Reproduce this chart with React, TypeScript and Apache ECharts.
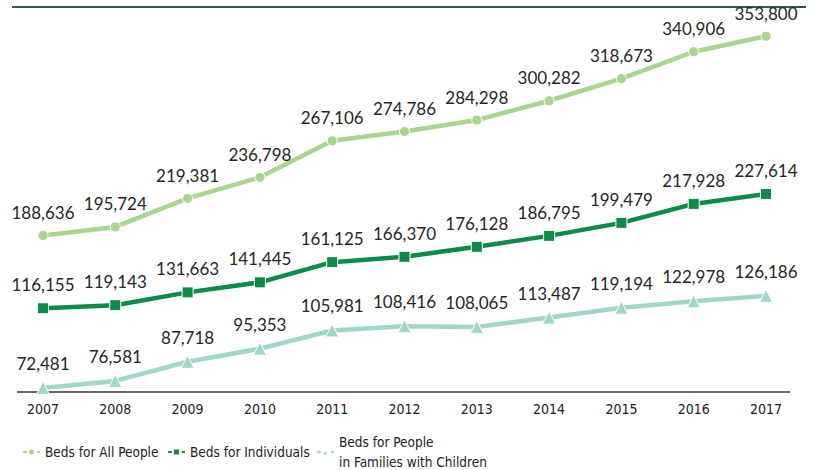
import React, { useEffect, useRef } from "react";
import * as echarts from "echarts";

const years = ["2007", "2008", "2009", "2010", "2011", "2012", "2013", "2014", "2015", "2016", "2017"];
const allPeople = [188636, 195724, 219381, 236798, 267106, 274786, 284298, 300282, 318673, 340906, 353800];
const individuals = [116155, 119143, 131663, 141445, 161125, 166370, 176128, 186795, 199479, 217928, 227614];
const families = [72481, 76581, 87718, 95353, 105981, 108416, 108065, 113487, 119194, 122978, 126186];
const seriesNames = ["Beds for All People", "Beds for Individuals", "Beds for People\nin Families with Children"];

const condensed = "'Liberation Sans Narrow', 'DejaVu Sans Condensed', 'Roboto', sans-serif";
const labelFont = "Lato, 'Open Sans', sans-serif";

export default function App() {
  const ref = useRef<HTMLDivElement>(null);
  useEffect(() => {
    const chart = echarts.init(ref.current!, null, { renderer: "svg" });
    const fmt = (p: any) => Number(p.value).toLocaleString("en-US");
    const mk = (name: string, data: number[], color: string, symbol: string, size: number, yi: number) => ({
      name,
      type: "line",
      data,
      yAxisIndex: yi,
      symbol,
      symbolSize: size,
      showAllSymbol: true,
      lineStyle: { color, width: 4.5 },
      itemStyle: { color, borderColor: "#fff", borderWidth: 1 },
      label: {
        show: true,
        position: "top",
        distance: 9,
        formatter: fmt,
        color: "#262626",
        fontSize: 17,
        fontFamily: labelFont,
      },
    });
    const hiddenY = (min: number, max: number) => ({
      type: "value",
      min,
      max,
      show: false,
      splitLine: { show: false },
    });
    const legendBase = {
      itemWidth: 17,
      itemHeight: 9,
      itemGap: 6,
      lineStyle: { type: [4, 3] },
      textStyle: { color: "#222", fontSize: 13.5, fontFamily: condensed, lineHeight: 20 },
    };
    chart.setOption({
      animation: false,
      backgroundColor: "#fff",
      grid: { left: 43, right: 47, top: 7, bottom: 78 },
      xAxis: {
        type: "category",
        data: years,
        boundaryGap: false,
        axisLine: { show: false },
        axisTick: { show: false },
        axisLabel: { color: "#222", fontSize: 14, fontFamily: condensed, margin: 10 },
      },
      yAxis: [hiddenY(58900, 378000), hiddenY(34500, 410000), hiddenY(70100, 294600)],
      legend: [
        { ...legendBase, left: 17, top: 437, data: [seriesNames[0]] },
        { ...legendBase, left: 162, top: 437, data: [seriesNames[1]] },
        { ...legendBase, left: 311, top: 427, data: [seriesNames[2]] },
      ],
      graphic: [
        { type: "line", shape: { x1: 12, y1: 7, x2: 806, y2: 7 }, style: { stroke: "#2e5e3e", lineWidth: 2 } },
        { type: "line", shape: { x1: 17, y1: 392, x2: 790, y2: 392 }, style: { stroke: "#333", lineWidth: 1.5 } },
      ],
      series: [
        mk(seriesNames[0], allPeople, "#a9d58e", "circle", 10, 0),
        mk(seriesNames[1], individuals, "#0e8a4b", "rect", 11, 1),
        mk(seriesNames[2], families, "#9fd8c5", "triangle", 13, 2),
      ],
    });
    return () => chart.dispose();
  }, []);
  return <div ref={ref} style={{ width: 813, height: 470, position: "absolute", left: 0, top: 0 }} />;
}
